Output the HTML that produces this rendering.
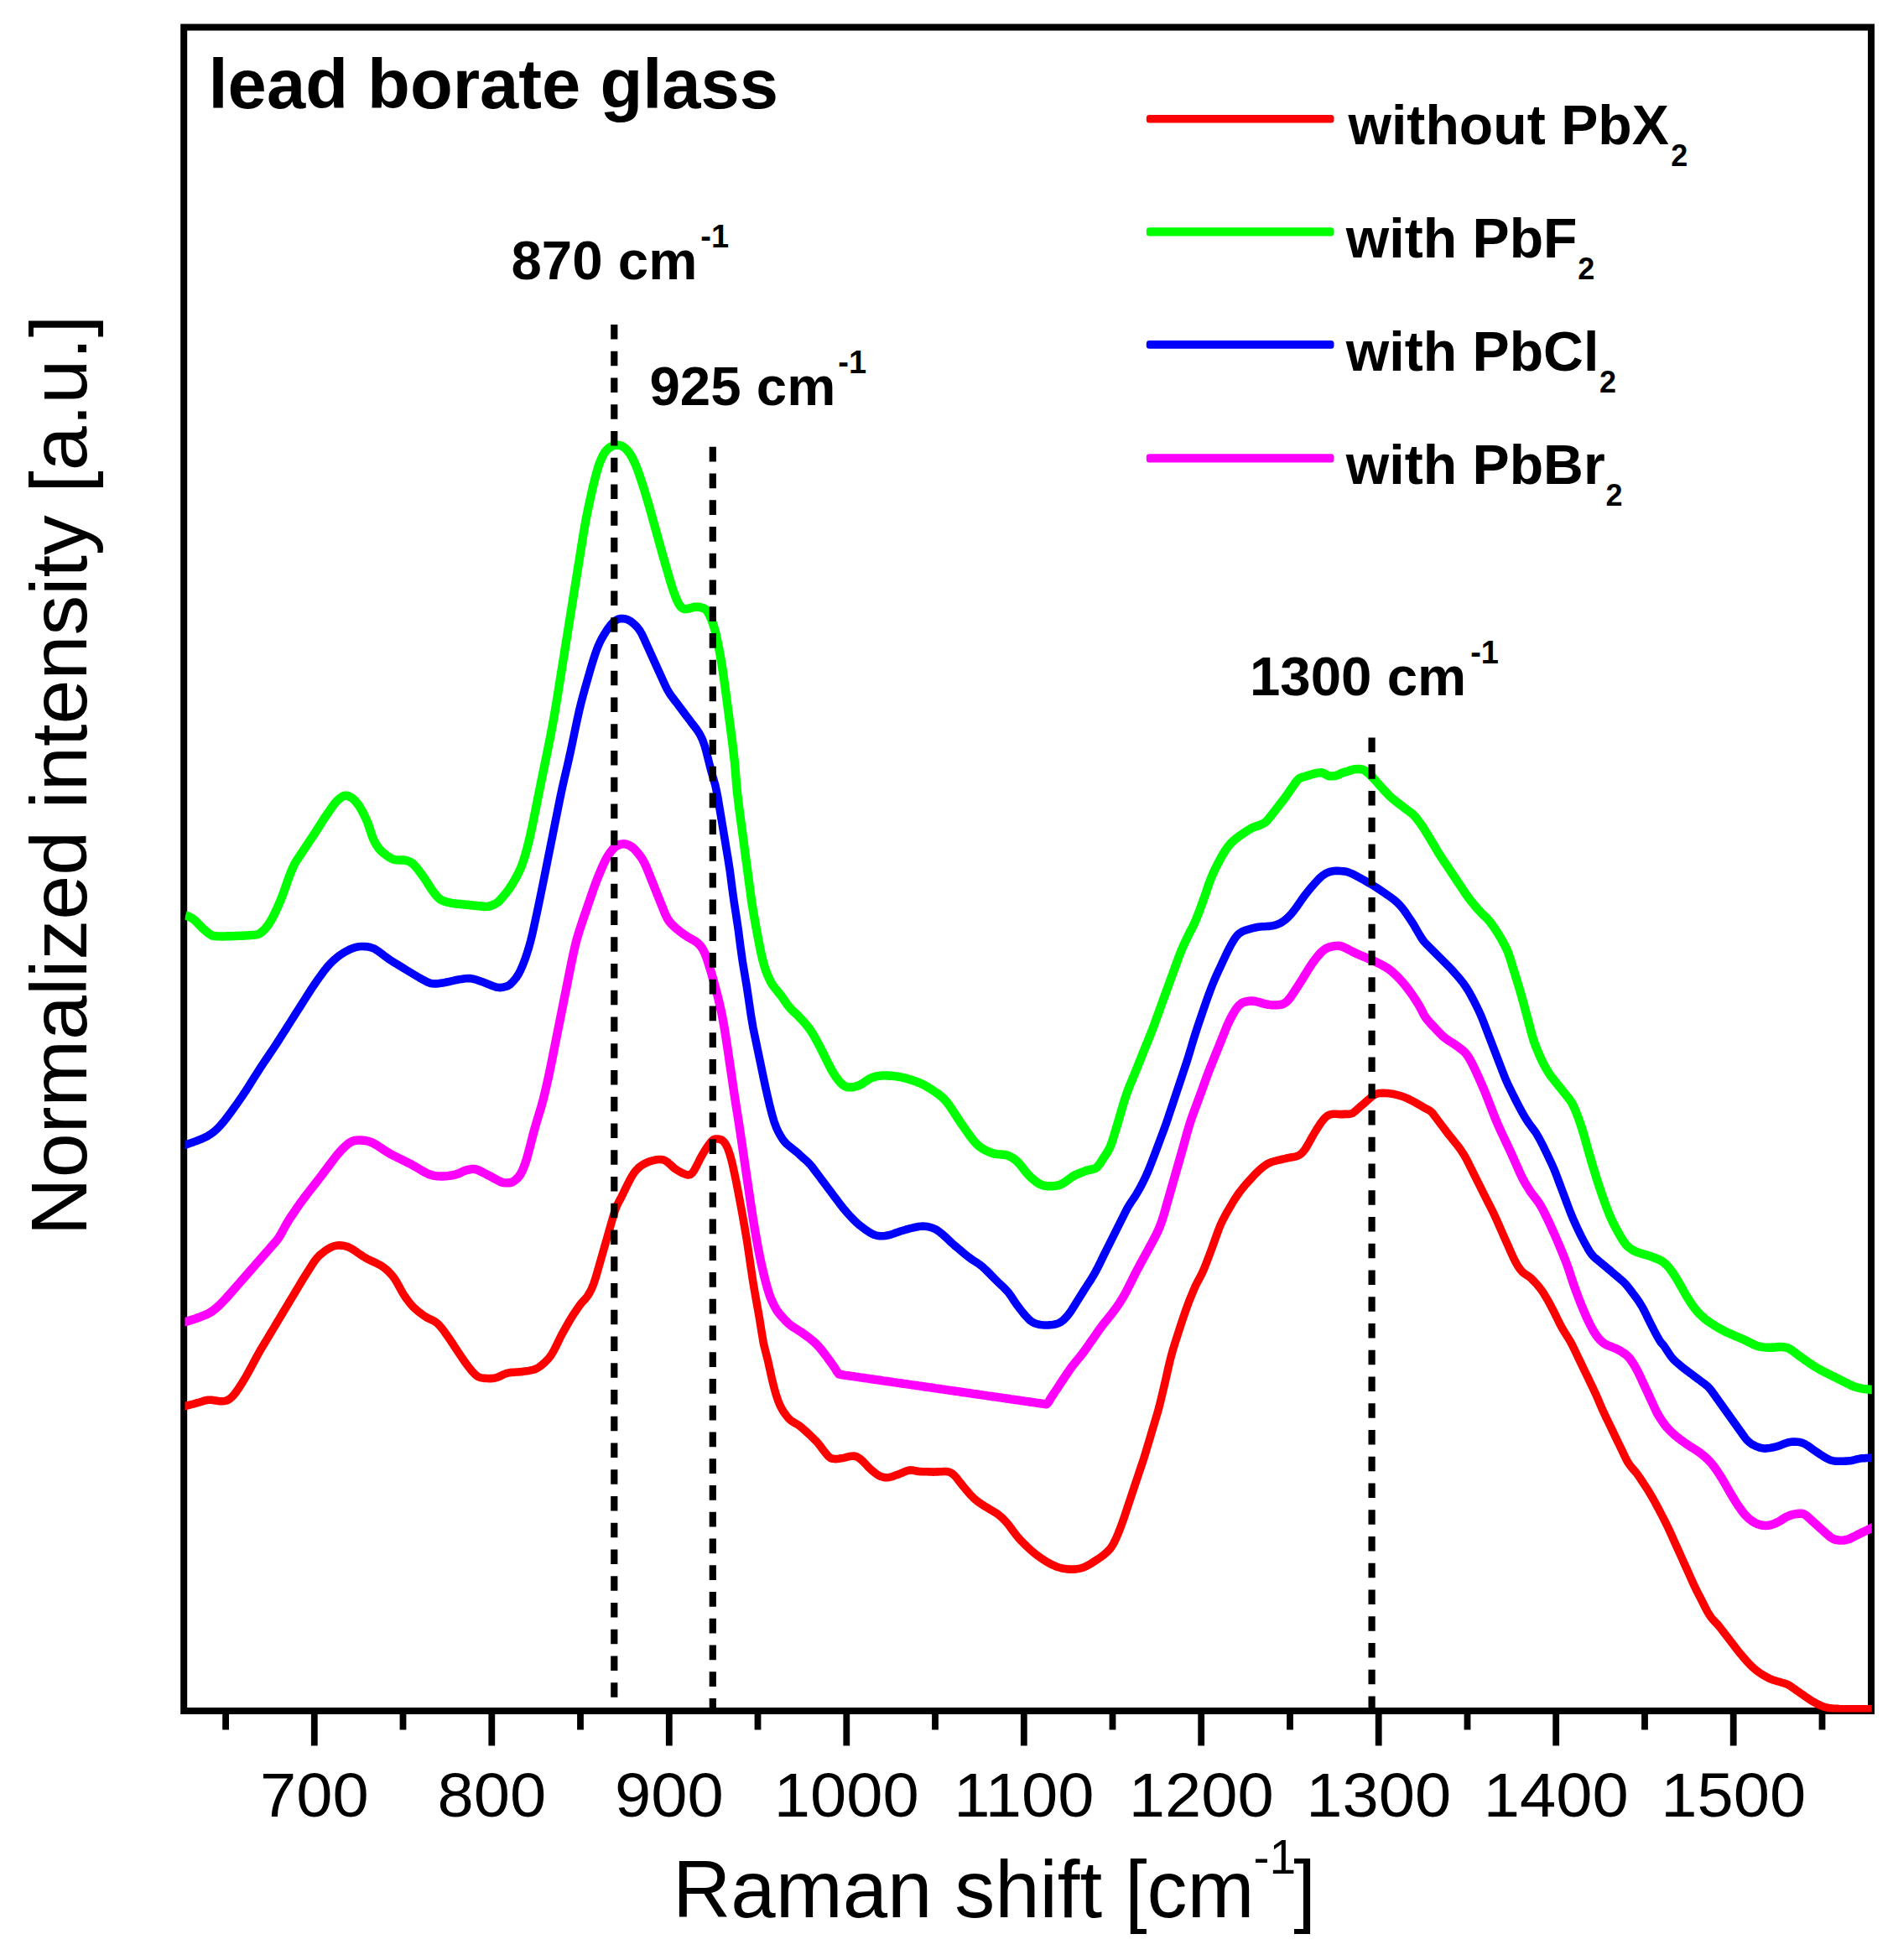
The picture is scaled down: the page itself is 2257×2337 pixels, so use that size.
<!DOCTYPE html>
<html lang="en"><head><meta charset="utf-8"><title>Raman spectra of lead borate glass</title>
<style>html,body{margin:0;padding:0;background:#fff;}body{width:2257px;height:2337px;overflow:hidden;}svg{display:block;}text{font-family:"Liberation Sans", sans-serif;fill:#000;}.b{font-weight:700;}</style>
</head><body>
<svg width="2257" height="2337" viewBox="0 0 2257 2337">
<rect width="2257" height="2337" fill="#fff"/>
<defs><clipPath id="plot"><rect x="220.5" y="32.5" width="2011.2" height="2009.0"/></clipPath></defs>
<rect x="219.2" y="32.5" width="2011.8" height="2007.5" fill="none" stroke="#000" stroke-width="8"/>
<path d="M269.1 2043.5 v19M374.8 2043.5 v38M480.5 2043.5 v19M586.3 2043.5 v38M692.0 2043.5 v19M797.8 2043.5 v38M903.5 2043.5 v19M1009.3 2043.5 v38M1115.0 2043.5 v19M1220.8 2043.5 v38M1326.5 2043.5 v19M1432.2 2043.5 v38M1538.0 2043.5 v19M1643.7 2043.5 v38M1749.5 2043.5 v19M1855.2 2043.5 v38M1961.0 2043.5 v19M2066.7 2043.5 v38M2172.5 2043.5 v19" stroke="#000" stroke-width="7.8" fill="none"/>
<g font-size="75" text-anchor="middle">
<text transform="translate(374.8 2166) scale(1.036 1)">700</text>
<text transform="translate(586.3 2166) scale(1.036 1)">800</text>
<text transform="translate(797.8 2166) scale(1.036 1)">900</text>
<text transform="translate(1009.3 2166) scale(1.036 1)">1000</text>
<text transform="translate(1220.8 2166) scale(1.036 1)">1100</text>
<text transform="translate(1432.2 2166) scale(1.036 1)">1200</text>
<text transform="translate(1643.7 2166) scale(1.036 1)">1300</text>
<text transform="translate(1855.2 2166) scale(1.036 1)">1400</text>
<text transform="translate(2066.7 2166) scale(1.036 1)">1500</text>
</g>
<g clip-path="url(#plot)" fill="none" stroke-linejoin="round" stroke-linecap="butt">
<path d="M205.3 1678.2L207.8 1678.1 210.3 1677.9 212.8 1677.7 215.3 1677.4 217.8 1677.1 220.3 1676.6 222.8 1676.0 225.3 1675.4 227.8 1674.7 230.3 1674.1 232.8 1673.4 235.3 1672.7 237.8 1672.0 240.3 1671.2 242.8 1670.4 245.3 1669.7 247.8 1669.2 250.3 1669.2 252.8 1669.3 255.3 1669.7 257.8 1670.1 260.3 1670.4 262.8 1670.7 265.3 1670.7 267.8 1670.5 270.3 1669.8 272.8 1668.6 275.3 1666.7 277.8 1664.4 280.3 1661.4 282.8 1657.9 285.3 1654.2 287.8 1650.3 290.3 1646.3 292.8 1642.1 295.3 1637.7 297.8 1633.2 300.3 1628.5 302.8 1623.7 305.3 1619.1 307.8 1614.5 310.3 1610.1 312.8 1606.0 315.3 1601.8 317.8 1597.6 320.3 1593.5 322.8 1589.3 325.3 1585.1 327.8 1581.0 330.3 1576.8 332.8 1572.6 335.3 1568.5 337.8 1564.3 340.3 1560.1 342.8 1556.0 345.3 1551.8 347.8 1547.6 350.3 1543.5 352.8 1539.3 355.3 1535.1 357.8 1531.0 360.3 1526.8 362.8 1522.7 365.3 1518.7 367.8 1514.8 370.3 1510.9 372.8 1507.0 375.3 1503.3 377.8 1500.1 380.3 1497.4 382.8 1495.2 385.3 1493.2 387.8 1491.3 390.3 1489.6 392.8 1488.1 395.3 1486.9 397.8 1485.9 400.3 1485.3 402.8 1484.9 405.3 1484.9 407.8 1485.1 410.3 1485.4 412.8 1486.1 415.3 1486.9 417.8 1488.1 420.3 1489.5 422.8 1491.1 425.3 1492.8 427.8 1494.6 430.3 1496.3 432.8 1498.0 435.3 1499.5 437.8 1500.9 440.3 1502.2 442.8 1503.4 445.3 1504.5 447.8 1505.7 450.3 1506.9 452.8 1508.2 455.3 1509.7 457.8 1511.4 460.3 1513.4 462.8 1515.7 465.3 1518.3 467.8 1521.1 470.3 1524.4 472.8 1528.3 475.3 1532.8 477.8 1537.5 480.3 1542.0 482.8 1545.9 485.3 1549.4 487.8 1552.7 490.3 1555.8 492.8 1558.5 495.3 1560.8 497.8 1562.9 500.3 1564.9 502.8 1566.8 505.3 1568.6 507.8 1570.3 510.3 1571.7 512.8 1572.9 515.3 1574.0 517.8 1575.3 520.3 1577.0 522.8 1579.2 525.3 1581.9 527.8 1585.0 530.3 1588.4 532.8 1592.0 535.3 1595.6 537.8 1599.3 540.3 1603.0 542.8 1606.8 545.3 1610.6 547.8 1614.4 550.3 1618.1 552.8 1621.7 555.3 1625.3 557.8 1628.7 560.3 1631.9 562.8 1634.9 565.3 1637.6 567.8 1640.0 570.3 1641.6 572.8 1642.6 575.3 1643.1 577.8 1643.4 580.3 1643.5 582.8 1643.6 585.3 1643.6 587.8 1643.4 590.3 1643.0 592.8 1642.3 595.3 1641.3 597.8 1640.1 600.3 1638.9 602.8 1637.9 605.3 1637.1 607.8 1636.6 610.3 1636.4 612.8 1636.2 615.3 1636.0 617.8 1635.9 620.3 1635.7 622.8 1635.4 625.3 1635.1 627.8 1634.8 630.3 1634.4 632.8 1633.9 635.3 1633.4 637.8 1632.7 640.3 1631.5 642.8 1630.0 645.3 1628.1 647.8 1626.0 650.3 1623.7 652.8 1621.2 655.3 1618.2 657.8 1614.7 660.3 1610.4 662.8 1605.5 665.3 1600.3 667.8 1595.1 670.3 1590.3 672.8 1585.8 675.3 1581.3 677.8 1577.0 680.3 1572.8 682.8 1568.7 685.3 1564.9 687.8 1561.3 690.3 1557.6 692.8 1554.2 695.3 1551.4 697.8 1548.8 700.3 1545.6 702.8 1541.7 705.3 1536.9 707.8 1530.8 710.3 1523.2 712.8 1514.5 715.3 1505.7 717.8 1497.0 720.3 1488.2 722.8 1479.5 725.3 1470.7 727.8 1462.0 730.3 1453.2 732.8 1444.7 735.3 1438.1 737.8 1433.0 740.3 1428.4 742.8 1423.4 745.3 1418.2 747.8 1413.0 750.3 1408.1 752.8 1403.5 755.3 1399.4 757.8 1396.1 760.3 1393.4 762.8 1391.1 765.3 1389.3 767.8 1387.8 770.3 1386.6 772.8 1385.5 775.3 1384.6 777.8 1383.9 780.3 1383.3 782.8 1382.8 785.3 1382.5 787.8 1382.5 790.3 1382.8 792.8 1383.7 795.3 1385.3 797.8 1387.4 800.3 1389.6 802.8 1391.9 805.3 1393.9 807.8 1395.5 810.3 1397.0 812.8 1398.3 815.3 1399.4 817.8 1400.4 820.3 1401.0 822.8 1400.6 825.3 1398.7 827.8 1395.2 830.3 1390.7 832.8 1385.7 835.3 1380.7 837.8 1376.2 840.3 1372.1 842.8 1368.2 845.3 1364.6 847.8 1361.3 850.3 1359.0 852.8 1358.0 855.3 1358.0 857.8 1358.3 860.3 1359.1 862.8 1361.0 865.3 1364.3 867.8 1369.5 870.3 1376.7 872.8 1386.0 875.3 1397.3 877.8 1409.3 880.3 1422.0 882.8 1435.3 885.3 1449.0 887.8 1463.2 890.3 1478.0 892.8 1494.4 895.3 1511.7 897.8 1528.2 900.3 1542.9 902.8 1556.8 905.3 1570.8 907.8 1586.5 910.3 1601.5 912.8 1611.6 915.3 1621.2 917.8 1632.5 920.3 1643.8 922.8 1654.0 925.3 1663.0 927.8 1670.4 930.3 1676.3 932.8 1681.0 935.3 1684.8 937.8 1688.2 940.3 1691.2 942.8 1693.6 945.3 1695.3 947.8 1696.7 950.3 1698.1 952.8 1699.8 955.3 1701.8 957.8 1703.9 960.3 1706.1 962.8 1708.4 965.3 1710.7 967.8 1713.1 970.3 1715.6 972.8 1718.1 975.3 1720.8 977.8 1723.9 980.3 1727.3 982.8 1730.6 985.3 1733.7 987.8 1736.6 990.3 1738.6 992.8 1739.3 995.3 1739.6 997.8 1739.5 1000.3 1739.2 1002.8 1738.8 1005.3 1738.4 1007.8 1737.9 1010.3 1737.2 1012.8 1736.6 1015.3 1736.2 1017.8 1736.0 1020.3 1736.5 1022.8 1737.6 1025.3 1739.3 1027.8 1741.4 1030.3 1743.9 1032.8 1746.5 1035.3 1749.2 1037.8 1751.6 1040.3 1753.8 1042.8 1755.9 1045.3 1757.8 1047.8 1759.4 1050.3 1760.5 1052.8 1761.3 1055.3 1761.7 1057.8 1761.7 1060.3 1761.4 1062.8 1760.9 1065.3 1760.0 1067.8 1759.1 1070.3 1758.2 1072.8 1757.2 1075.3 1756.3 1077.8 1755.2 1080.3 1754.1 1082.8 1753.3 1085.3 1752.9 1087.8 1753.0 1090.3 1753.5 1092.8 1754.0 1095.3 1754.5 1097.8 1754.6 1100.3 1754.7 1102.8 1754.8 1105.3 1754.8 1107.8 1754.9 1110.3 1755.0 1112.8 1755.1 1115.3 1755.0 1117.8 1754.9 1120.3 1754.8 1122.8 1754.7 1125.3 1754.5 1127.8 1754.5 1130.3 1754.8 1132.8 1755.6 1135.3 1757.0 1137.8 1759.1 1140.3 1761.9 1142.8 1765.1 1145.3 1768.3 1147.8 1771.5 1150.3 1774.5 1152.8 1777.4 1155.3 1780.4 1157.8 1783.2 1160.3 1785.7 1162.8 1788.0 1165.3 1790.0 1167.8 1791.8 1170.3 1793.5 1172.8 1795.1 1175.3 1796.7 1177.8 1798.2 1180.3 1799.7 1182.8 1801.1 1185.3 1802.6 1187.8 1804.1 1190.3 1805.9 1192.8 1807.9 1195.3 1810.3 1197.8 1812.8 1200.3 1815.5 1202.8 1818.6 1205.3 1821.9 1207.8 1825.4 1210.3 1828.7 1212.8 1831.9 1215.3 1834.7 1217.8 1837.4 1220.3 1840.0 1222.8 1842.5 1225.3 1844.9 1227.8 1847.2 1230.3 1849.4 1232.8 1851.5 1235.3 1853.5 1237.8 1855.4 1240.3 1857.2 1242.8 1858.9 1245.3 1860.5 1247.8 1862.1 1250.3 1863.5 1252.8 1864.9 1255.3 1866.1 1257.8 1867.2 1260.3 1868.2 1262.8 1869.0 1265.3 1869.7 1267.8 1870.2 1270.3 1870.6 1272.8 1870.9 1275.3 1871.1 1277.8 1871.1 1280.3 1871.1 1282.8 1870.9 1285.3 1870.6 1287.8 1870.1 1290.3 1869.4 1292.8 1868.5 1295.3 1867.3 1297.8 1866.0 1300.3 1864.6 1302.8 1863.0 1305.3 1861.4 1307.8 1859.8 1310.3 1858.1 1312.8 1856.4 1315.3 1854.5 1317.8 1852.4 1320.3 1850.2 1322.8 1847.7 1325.3 1844.4 1327.8 1840.2 1330.3 1835.1 1332.8 1829.3 1335.3 1823.1 1337.8 1816.4 1340.3 1809.3 1342.8 1801.8 1345.3 1794.3 1347.8 1786.8 1350.3 1779.3 1352.8 1771.8 1355.3 1764.3 1357.8 1756.8 1360.3 1749.4 1362.8 1741.9 1365.3 1734.0 1367.8 1725.7 1370.3 1717.3 1372.8 1708.9 1375.3 1700.5 1377.8 1692.2 1380.3 1683.9 1382.8 1674.5 1385.3 1664.2 1387.8 1653.7 1390.3 1642.9 1392.8 1631.6 1395.3 1621.0 1397.8 1611.7 1400.3 1603.3 1402.8 1595.5 1405.3 1587.7 1407.8 1580.0 1410.3 1572.4 1412.8 1565.1 1415.3 1558.1 1417.8 1551.4 1420.3 1545.2 1422.8 1539.2 1425.3 1533.4 1427.8 1528.4 1430.3 1523.8 1432.8 1519.1 1435.3 1513.6 1437.8 1507.3 1440.3 1500.8 1442.8 1494.1 1445.3 1487.3 1447.8 1480.3 1450.3 1473.3 1452.8 1466.5 1455.3 1460.3 1457.8 1455.0 1460.3 1450.2 1462.8 1445.7 1465.3 1441.4 1467.8 1437.1 1470.3 1432.9 1472.8 1428.9 1475.3 1425.1 1477.8 1421.6 1480.3 1418.4 1482.8 1415.3 1485.3 1412.3 1487.8 1409.5 1490.3 1406.7 1492.8 1404.0 1495.3 1401.3 1497.8 1398.7 1500.3 1396.3 1502.8 1394.0 1505.3 1391.9 1507.8 1390.0 1510.3 1388.3 1512.8 1386.9 1515.3 1385.8 1517.8 1385.0 1520.3 1384.3 1522.8 1383.7 1525.3 1383.1 1527.8 1382.5 1530.3 1381.9 1532.8 1381.3 1535.3 1380.8 1537.8 1380.3 1540.3 1379.8 1542.8 1379.4 1545.3 1378.8 1547.8 1378.0 1550.3 1376.5 1552.8 1374.3 1555.3 1371.3 1557.8 1367.5 1560.3 1363.2 1562.8 1358.6 1565.3 1354.1 1567.8 1349.9 1570.3 1345.9 1572.8 1342.0 1575.3 1338.3 1577.8 1335.0 1580.3 1332.3 1582.8 1330.4 1585.3 1329.2 1587.8 1328.5 1590.3 1328.3 1592.8 1328.3 1595.3 1328.5 1597.8 1328.6 1600.3 1328.6 1602.8 1328.4 1605.3 1328.4 1607.8 1328.5 1610.3 1328.1 1612.8 1327.2 1615.3 1325.3 1617.8 1323.1 1620.3 1320.9 1622.8 1318.7 1625.3 1316.6 1627.8 1314.4 1630.3 1312.2 1632.8 1310.0 1635.3 1307.8 1637.8 1305.9 1640.3 1304.6 1642.8 1303.8 1645.3 1303.5 1647.8 1303.4 1650.3 1303.4 1652.8 1303.5 1655.3 1303.6 1657.8 1303.9 1660.3 1304.3 1662.8 1304.8 1665.3 1305.4 1667.8 1306.1 1670.3 1306.8 1672.8 1307.6 1675.3 1308.6 1677.8 1309.7 1680.3 1310.9 1682.8 1312.1 1685.3 1313.4 1687.8 1314.8 1690.3 1316.2 1692.8 1317.6 1695.3 1319.1 1697.8 1320.6 1700.3 1322.0 1702.8 1323.2 1705.3 1324.6 1707.8 1327.0 1710.3 1330.3 1712.8 1333.6 1715.3 1337.0 1717.8 1340.3 1720.3 1343.6 1722.8 1346.9 1725.3 1350.3 1727.8 1353.5 1730.3 1356.6 1732.8 1359.6 1735.3 1362.7 1737.8 1365.8 1740.3 1369.2 1742.8 1372.8 1745.3 1376.7 1747.8 1381.0 1750.3 1385.8 1752.8 1390.8 1755.3 1395.8 1757.8 1400.8 1760.3 1405.8 1762.8 1410.8 1765.3 1415.8 1767.8 1420.8 1770.3 1425.8 1772.8 1430.8 1775.3 1435.7 1777.8 1440.6 1780.3 1445.7 1782.8 1451.0 1785.3 1456.5 1787.8 1462.2 1790.3 1467.9 1792.8 1473.6 1795.3 1479.2 1797.8 1484.8 1800.3 1490.5 1802.8 1496.1 1805.3 1501.5 1807.8 1506.2 1810.3 1510.4 1812.8 1513.9 1815.3 1516.7 1817.8 1518.8 1820.3 1520.4 1822.8 1522.0 1825.3 1524.0 1827.8 1526.5 1830.3 1529.1 1832.8 1531.9 1835.3 1534.9 1837.8 1538.1 1840.3 1541.8 1842.8 1545.9 1845.3 1550.2 1847.8 1554.7 1850.3 1559.4 1852.8 1564.3 1855.3 1569.4 1857.8 1574.5 1860.3 1579.5 1862.8 1584.1 1865.3 1588.2 1867.8 1592.2 1870.3 1596.2 1872.8 1600.5 1875.3 1605.3 1877.8 1610.4 1880.3 1615.7 1882.8 1620.9 1885.3 1626.1 1887.8 1631.3 1890.3 1636.5 1892.8 1641.7 1895.3 1646.9 1897.8 1652.1 1900.3 1657.3 1902.8 1662.6 1905.3 1668.4 1907.8 1674.3 1910.3 1680.1 1912.8 1685.6 1915.3 1690.8 1917.8 1696.0 1920.3 1701.2 1922.8 1706.4 1925.3 1711.6 1927.8 1716.8 1930.3 1722.0 1932.8 1727.2 1935.3 1732.4 1937.8 1737.6 1940.3 1742.5 1942.8 1746.3 1945.3 1749.6 1947.8 1752.5 1950.3 1755.4 1952.8 1758.6 1955.3 1762.3 1957.8 1766.0 1960.3 1769.8 1962.8 1773.6 1965.3 1777.5 1967.8 1781.7 1970.3 1786.0 1972.8 1790.5 1975.3 1795.1 1977.8 1799.8 1980.3 1804.6 1982.8 1809.4 1985.3 1814.3 1987.8 1819.3 1990.3 1824.6 1992.8 1830.1 1995.3 1835.7 1997.8 1841.2 2000.3 1846.8 2002.8 1852.3 2005.3 1857.9 2007.8 1863.4 2010.3 1869.0 2012.8 1874.5 2015.3 1880.1 2017.8 1885.7 2020.3 1891.2 2022.8 1896.3 2025.3 1901.2 2027.8 1906.0 2030.3 1911.0 2032.8 1916.0 2035.3 1920.8 2037.8 1925.1 2040.3 1928.7 2042.8 1931.7 2045.3 1934.3 2047.8 1936.9 2050.3 1939.9 2052.8 1943.1 2055.3 1946.4 2057.8 1949.6 2060.3 1952.9 2062.8 1956.1 2065.3 1959.4 2067.8 1962.6 2070.3 1965.9 2072.8 1969.1 2075.3 1972.2 2077.8 1975.1 2080.3 1978.0 2082.8 1980.9 2085.3 1983.6 2087.8 1986.1 2090.3 1988.5 2092.8 1990.7 2095.3 1992.6 2097.8 1994.4 2100.3 1996.1 2102.8 1997.6 2105.3 1999.0 2107.8 2000.4 2110.3 2001.6 2112.8 2002.7 2115.3 2003.5 2117.8 2004.3 2120.3 2005.0 2122.8 2005.7 2125.3 2006.5 2127.8 2007.2 2130.3 2008.1 2132.8 2009.2 2135.3 2010.8 2137.8 2012.6 2140.3 2014.3 2142.8 2016.1 2145.3 2017.8 2147.8 2019.6 2150.3 2021.3 2152.8 2023.1 2155.3 2024.8 2157.8 2026.5 2160.3 2028.1 2162.8 2029.5 2165.3 2030.9 2167.8 2032.2 2170.3 2033.4 2172.8 2034.4 2175.3 2035.3 2177.8 2035.9 2180.3 2036.4 2182.8 2036.8 2185.3 2037.1 2187.8 2037.3 2190.3 2037.4 2192.8 2037.6 2195.3 2037.7 2197.8 2037.8 2200.3 2037.8 2202.8 2037.8 2205.3 2037.8 2207.8 2037.8 2210.3 2037.8 2212.8 2037.8 2215.3 2037.8 2217.8 2037.8 2220.3 2037.8 2222.8 2037.8 2225.3 2037.8 2227.8 2037.8 2230.3 2037.8 2232.8 2037.8 2235.3 2037.8 2237.8 2037.8 2240.3 2037.8 2242.8 2037.8" stroke="#ff0000" stroke-width="9.6"/>
<path d="M221.1 1091.5L223.6 1092.2 226.1 1093.3 228.6 1094.6 231.1 1096.3 233.6 1098.5 236.1 1101.1 238.6 1103.8 241.1 1106.3 243.6 1108.5 246.1 1110.7 248.6 1112.8 251.1 1114.5 253.6 1115.7 256.1 1116.1 258.6 1116.3 261.1 1116.4 263.6 1116.5 266.1 1116.5 268.6 1116.4 271.1 1116.3 273.6 1116.3 276.1 1116.2 278.6 1116.1 281.1 1116.0 283.6 1115.9 286.1 1115.8 288.6 1115.7 291.1 1115.6 293.6 1115.4 296.1 1115.3 298.6 1115.1 301.1 1114.9 303.6 1114.7 306.1 1114.4 308.6 1113.6 311.1 1112.1 313.6 1110.0 316.1 1107.4 318.6 1104.4 321.1 1100.8 323.6 1096.7 326.1 1092.0 328.6 1086.9 331.1 1081.4 333.6 1075.6 336.1 1069.5 338.6 1062.9 341.1 1055.7 343.6 1048.4 346.1 1041.8 348.6 1035.7 351.1 1030.4 353.6 1026.1 356.1 1022.4 358.6 1018.6 361.1 1014.9 363.6 1011.1 366.1 1007.4 368.6 1003.6 371.1 999.9 373.6 996.1 376.1 992.3 378.6 988.4 381.1 984.4 383.6 980.4 386.1 976.5 388.6 972.8 391.1 969.2 393.6 965.6 396.1 962.1 398.6 958.7 401.1 955.7 403.6 953.3 406.1 951.3 408.6 949.7 411.1 948.7 413.6 948.7 416.1 949.5 418.6 950.8 421.1 952.6 423.6 955.1 426.1 958.1 428.6 961.6 431.1 965.8 433.6 970.5 436.1 975.7 438.6 981.5 441.1 989.0 443.6 996.7 446.1 1002.7 448.6 1007.1 451.1 1010.8 453.6 1013.8 456.1 1016.2 458.6 1018.2 461.1 1020.1 463.6 1021.9 466.1 1023.3 468.6 1024.4 471.1 1025.1 473.6 1025.4 476.1 1025.5 478.6 1025.5 481.1 1025.5 483.6 1025.9 486.1 1026.5 488.6 1027.5 491.1 1029.0 493.6 1031.2 496.1 1034.0 498.6 1037.1 501.1 1040.4 503.6 1043.8 506.1 1047.4 508.6 1051.2 511.1 1055.1 513.6 1059.0 516.1 1062.6 518.6 1066.0 521.1 1068.9 523.6 1071.4 526.1 1073.1 528.6 1074.2 531.1 1075.0 533.6 1075.7 536.1 1076.3 538.6 1076.8 541.1 1077.2 543.6 1077.5 546.1 1077.8 548.6 1078.0 551.1 1078.3 553.6 1078.5 556.1 1078.8 558.6 1079.0 561.1 1079.3 563.6 1079.5 566.1 1079.8 568.6 1080.0 571.1 1080.3 573.6 1080.5 576.1 1080.8 578.6 1081.0 581.1 1080.9 583.6 1080.5 586.1 1079.7 588.6 1078.7 591.1 1077.4 593.6 1075.6 596.1 1073.3 598.6 1070.5 601.1 1067.5 603.6 1064.4 606.1 1061.1 608.6 1057.5 611.1 1053.6 613.6 1049.4 616.1 1044.9 618.6 1040.0 621.1 1034.4 623.6 1027.7 626.1 1019.9 628.6 1010.8 631.1 1000.7 633.6 989.7 636.1 977.7 638.6 965.2 641.1 952.6 643.6 940.2 646.1 927.9 648.6 915.8 651.1 903.7 653.6 891.3 656.1 878.7 658.6 865.5 661.1 851.6 663.6 836.6 666.1 821.0 668.6 805.4 671.1 789.8 673.6 774.1 676.1 758.5 678.6 742.9 681.1 727.3 683.6 711.6 686.1 696.0 688.6 680.4 691.1 664.8 693.6 649.1 696.1 633.6 698.6 619.5 701.1 607.0 703.6 595.5 706.1 584.4 708.6 573.8 711.1 564.2 713.6 555.8 716.1 549.0 718.6 543.6 721.1 539.4 723.6 536.3 726.1 534.0 728.6 532.6 731.1 531.5 733.6 530.8 736.1 530.6 738.6 530.9 741.1 531.7 743.6 533.0 746.1 535.0 748.6 537.8 751.1 541.2 753.6 545.3 756.1 550.3 758.6 556.0 761.1 562.7 763.6 570.1 766.1 577.7 768.6 585.5 771.1 593.7 773.6 602.3 776.1 611.2 778.6 620.2 781.1 629.2 783.6 638.2 786.1 647.2 788.6 656.2 791.1 665.0 793.6 673.7 796.1 682.4 798.6 691.1 801.1 699.3 803.6 706.7 806.1 713.3 808.6 718.9 811.1 722.8 813.6 725.1 816.1 726.1 818.6 726.1 821.1 725.7 823.6 724.9 826.1 724.2 828.6 723.7 831.1 723.6 833.6 723.8 836.1 724.4 838.6 725.2 841.1 726.4 843.6 729.2 846.1 733.7 848.6 739.7 851.1 746.9 853.6 756.1 856.1 767.5 858.6 780.7 861.1 795.4 863.6 812.7 866.1 831.4 868.6 850.3 871.1 869.3 873.6 888.7 876.1 910.6 878.6 941.6 881.1 962.3 883.6 981.1 886.1 999.8 888.6 1018.6 891.1 1037.3 893.6 1056.1 896.1 1074.6 898.6 1089.9 901.1 1103.7 903.6 1117.3 906.1 1130.0 908.6 1141.6 911.1 1151.2 913.6 1158.8 916.1 1164.8 918.6 1170.1 921.1 1174.4 923.6 1177.7 926.1 1180.8 928.6 1183.8 931.1 1186.9 933.6 1190.3 936.1 1194.1 938.6 1197.7 941.1 1200.9 943.6 1203.6 946.1 1206.1 948.6 1208.4 951.1 1210.7 953.6 1213.3 956.1 1216.0 958.6 1218.7 961.1 1221.6 963.6 1224.7 966.1 1228.1 968.6 1232.0 971.1 1236.2 973.6 1240.7 976.1 1245.4 978.6 1250.2 981.1 1255.1 983.6 1260.1 986.1 1265.2 988.6 1270.2 991.1 1275.1 993.6 1279.4 996.1 1283.3 998.6 1286.7 1001.1 1289.8 1003.6 1292.4 1006.1 1294.4 1008.6 1295.7 1011.1 1296.4 1013.6 1296.4 1016.1 1296.3 1018.6 1295.8 1021.1 1295.2 1023.6 1294.3 1026.1 1293.2 1028.6 1291.7 1031.1 1290.0 1033.6 1288.3 1036.1 1286.7 1038.6 1285.3 1041.1 1284.4 1043.6 1283.7 1046.1 1283.2 1048.6 1282.8 1051.1 1282.5 1053.6 1282.4 1056.1 1282.4 1058.6 1282.5 1061.1 1282.7 1063.6 1282.8 1066.1 1283.1 1068.6 1283.4 1071.1 1283.8 1073.6 1284.2 1076.1 1284.8 1078.6 1285.3 1081.1 1286.0 1083.6 1286.7 1086.1 1287.5 1088.6 1288.3 1091.1 1289.2 1093.6 1290.1 1096.1 1291.1 1098.6 1292.2 1101.1 1293.4 1103.6 1294.7 1106.1 1296.2 1108.6 1297.7 1111.1 1299.3 1113.6 1301.0 1116.1 1302.7 1118.6 1304.4 1121.1 1306.4 1123.6 1308.5 1126.1 1310.9 1128.6 1313.8 1131.1 1317.0 1133.6 1320.6 1136.1 1324.4 1138.6 1328.2 1141.1 1332.1 1143.6 1335.9 1146.1 1339.6 1148.6 1343.2 1151.1 1346.8 1153.6 1350.4 1156.1 1353.8 1158.6 1357.2 1161.1 1360.4 1163.6 1363.2 1166.1 1365.6 1168.6 1367.6 1171.1 1369.4 1173.6 1370.8 1176.1 1372.1 1178.6 1373.2 1181.1 1374.2 1183.6 1375.0 1186.1 1375.7 1188.6 1376.1 1191.1 1376.4 1193.6 1376.5 1196.1 1376.7 1198.6 1377.0 1201.1 1377.7 1203.6 1378.7 1206.1 1379.9 1208.6 1381.5 1211.1 1383.4 1213.6 1385.7 1216.1 1388.4 1218.6 1391.5 1221.1 1394.8 1223.6 1398.0 1226.1 1400.8 1228.6 1403.3 1231.1 1405.6 1233.6 1407.7 1236.1 1409.6 1238.6 1411.2 1241.1 1412.4 1243.6 1413.3 1246.1 1413.8 1248.6 1414.2 1251.1 1414.3 1253.6 1414.3 1256.1 1414.2 1258.6 1413.9 1261.1 1413.4 1263.6 1412.7 1266.1 1411.6 1268.6 1410.2 1271.1 1408.5 1273.6 1406.6 1276.1 1404.7 1278.6 1403.0 1281.1 1401.5 1283.6 1400.3 1286.1 1399.3 1288.6 1398.3 1291.1 1397.3 1293.6 1396.4 1296.1 1395.5 1298.6 1394.9 1301.1 1394.4 1303.6 1393.9 1306.1 1393.0 1308.6 1390.9 1311.1 1387.8 1313.6 1384.1 1316.1 1380.1 1318.6 1376.3 1321.1 1372.4 1323.6 1367.5 1326.1 1360.9 1328.6 1352.7 1331.1 1344.4 1333.6 1336.0 1336.1 1327.6 1338.6 1318.9 1341.1 1310.6 1343.6 1303.2 1346.1 1296.6 1348.6 1290.6 1351.1 1284.6 1353.6 1278.5 1356.1 1272.3 1358.6 1266.0 1361.1 1259.8 1363.6 1253.5 1366.1 1247.3 1368.6 1241.2 1371.1 1235.0 1373.6 1228.6 1376.1 1222.0 1378.6 1215.1 1381.1 1208.2 1383.6 1201.2 1386.1 1194.3 1388.6 1187.4 1391.1 1180.6 1393.6 1173.7 1396.1 1166.8 1398.6 1159.9 1401.1 1153.1 1403.6 1146.2 1406.1 1139.3 1408.6 1133.0 1411.1 1127.3 1413.6 1122.0 1416.1 1116.8 1418.6 1111.7 1421.1 1107.0 1423.6 1102.0 1426.1 1096.2 1428.6 1089.9 1431.1 1083.2 1433.6 1076.4 1436.1 1069.5 1438.6 1062.1 1441.1 1054.8 1443.6 1048.0 1446.1 1041.9 1448.6 1036.5 1451.1 1031.5 1453.6 1026.8 1456.1 1022.1 1458.6 1017.8 1461.1 1013.8 1463.6 1010.3 1466.1 1007.1 1468.6 1004.4 1471.1 1002.0 1473.6 1000.0 1476.1 998.1 1478.6 996.2 1481.1 994.5 1483.6 992.8 1486.1 991.2 1488.6 989.6 1491.1 988.1 1493.6 986.7 1496.1 985.8 1498.6 985.0 1501.1 984.2 1503.6 983.1 1506.1 981.9 1508.6 980.3 1511.1 978.1 1513.6 975.0 1516.1 971.8 1518.6 968.6 1521.1 965.4 1523.6 962.2 1526.1 958.9 1528.6 955.7 1531.1 952.5 1533.6 949.1 1536.1 945.4 1538.6 941.8 1541.1 938.2 1543.6 934.6 1546.1 931.2 1548.6 928.5 1551.1 927.2 1553.6 926.5 1556.1 925.8 1558.6 925.0 1561.1 924.2 1563.6 923.4 1566.1 922.7 1568.6 922.1 1571.1 921.7 1573.6 921.4 1576.1 921.3 1578.6 922.2 1581.1 923.7 1583.6 925.0 1586.1 925.4 1588.6 925.4 1591.1 925.1 1593.6 924.6 1596.1 923.7 1598.6 922.2 1601.1 921.3 1603.6 920.6 1606.1 920.0 1608.6 919.0 1611.1 918.1 1613.6 917.5 1616.1 917.1 1618.6 917.0 1621.1 917.0 1623.6 917.3 1626.1 918.1 1628.6 919.6 1631.1 921.6 1633.6 924.0 1636.1 926.5 1638.6 929.1 1641.1 931.9 1643.6 934.7 1646.1 937.6 1648.6 940.4 1651.1 943.1 1653.6 945.8 1656.1 948.4 1658.6 950.8 1661.1 952.9 1663.6 954.9 1666.1 956.9 1668.6 958.8 1671.1 960.7 1673.6 962.6 1676.1 964.5 1678.6 966.4 1681.1 968.2 1683.6 970.1 1686.1 972.5 1688.6 975.3 1691.1 978.6 1693.6 982.0 1696.1 985.6 1698.6 989.4 1701.1 993.5 1703.6 997.7 1706.1 1001.9 1708.6 1006.0 1711.1 1010.2 1713.6 1014.5 1716.1 1018.5 1718.6 1022.4 1721.1 1026.1 1723.6 1029.8 1726.1 1033.5 1728.6 1037.3 1731.1 1041.0 1733.6 1044.8 1736.1 1048.5 1738.6 1052.3 1741.1 1056.0 1743.6 1059.8 1746.1 1063.5 1748.6 1067.3 1751.1 1070.8 1753.6 1074.0 1756.1 1077.1 1758.6 1080.1 1761.1 1083.0 1763.6 1085.8 1766.1 1088.5 1768.6 1090.9 1771.1 1093.3 1773.6 1095.8 1776.1 1098.7 1778.6 1102.0 1781.1 1105.5 1783.6 1109.2 1786.1 1113.1 1788.6 1117.2 1791.1 1121.6 1793.6 1126.2 1796.1 1131.1 1798.6 1137.1 1801.1 1144.7 1803.6 1152.9 1806.1 1161.0 1808.6 1169.1 1811.1 1177.2 1813.6 1185.7 1816.1 1194.8 1818.6 1204.1 1821.1 1213.5 1823.6 1222.9 1826.1 1232.3 1828.6 1240.9 1831.1 1247.7 1833.6 1253.8 1836.1 1259.7 1838.6 1265.2 1841.1 1270.0 1843.6 1274.4 1846.1 1278.5 1848.6 1282.3 1851.1 1285.6 1853.6 1288.7 1856.1 1291.9 1858.6 1295.0 1861.1 1298.1 1863.6 1301.2 1866.1 1304.4 1868.6 1307.5 1871.1 1310.6 1873.6 1314.2 1876.1 1319.0 1878.6 1324.7 1881.1 1331.1 1883.6 1338.0 1886.1 1345.5 1888.6 1353.8 1891.1 1362.7 1893.6 1371.6 1896.1 1380.3 1898.6 1388.7 1901.1 1397.0 1903.6 1405.1 1906.1 1412.9 1908.6 1420.3 1911.1 1427.6 1913.6 1434.6 1916.1 1441.3 1918.6 1447.7 1921.1 1453.4 1923.6 1458.7 1926.1 1463.5 1928.6 1468.0 1931.1 1472.5 1933.6 1476.8 1936.1 1480.7 1938.6 1484.0 1941.1 1486.5 1943.6 1488.5 1946.1 1490.2 1948.6 1491.6 1951.1 1492.7 1953.6 1493.6 1956.1 1494.4 1958.6 1495.1 1961.1 1495.9 1963.6 1496.6 1966.1 1497.4 1968.6 1498.2 1971.1 1499.1 1973.6 1500.1 1976.1 1501.1 1978.6 1502.1 1981.1 1503.5 1983.6 1505.3 1986.1 1507.4 1988.6 1510.0 1991.1 1513.0 1993.6 1516.4 1996.1 1520.2 1998.6 1524.1 2001.1 1528.2 2003.6 1532.6 2006.1 1537.0 2008.6 1541.5 2011.1 1545.8 2013.6 1549.8 2016.1 1553.7 2018.6 1557.3 2021.1 1560.7 2023.6 1563.7 2026.1 1566.4 2028.6 1568.8 2031.1 1571.1 2033.6 1573.2 2036.1 1575.1 2038.6 1576.8 2041.1 1578.4 2043.6 1580.0 2046.1 1581.6 2048.6 1583.1 2051.1 1584.5 2053.6 1585.9 2056.1 1587.3 2058.6 1588.5 2061.1 1589.6 2063.6 1590.7 2066.1 1591.7 2068.6 1592.8 2071.1 1593.8 2073.6 1594.9 2076.1 1596.0 2078.6 1597.1 2081.1 1598.3 2083.6 1599.5 2086.1 1600.7 2088.6 1602.0 2091.1 1603.2 2093.6 1604.3 2096.1 1605.1 2098.6 1605.7 2101.1 1606.1 2103.6 1606.4 2106.1 1606.6 2108.6 1606.7 2111.1 1606.8 2113.6 1606.7 2116.1 1606.5 2118.6 1606.2 2121.1 1606.0 2123.6 1605.9 2126.1 1606.1 2128.6 1606.5 2131.1 1607.1 2133.6 1608.2 2136.1 1609.8 2138.6 1611.6 2141.1 1613.5 2143.6 1615.5 2146.1 1617.3 2148.6 1619.1 2151.1 1620.9 2153.6 1622.6 2156.1 1624.4 2158.6 1626.1 2161.1 1627.7 2163.6 1629.4 2166.1 1630.9 2168.6 1632.4 2171.1 1633.8 2173.6 1635.0 2176.1 1636.3 2178.6 1637.5 2181.1 1638.8 2183.6 1640.0 2186.1 1641.3 2188.6 1642.5 2191.1 1643.8 2193.6 1645.0 2196.1 1646.3 2198.6 1647.5 2201.1 1648.8 2203.6 1650.0 2206.1 1651.3 2208.6 1652.3 2211.1 1653.3 2213.6 1654.2 2216.1 1654.8 2218.6 1655.4 2221.1 1655.8 2223.6 1656.1 2226.1 1656.4 2228.6 1656.7 2231.1 1657.0 2233.6 1657.2 2236.1 1657.4 2238.6 1657.7 2241.1 1657.9 2243.6 1658.1" stroke="#00ff00" stroke-width="10.4"/>
<path d="M205.3 1368.8L207.8 1368.3 210.3 1367.7 212.8 1367.1 215.3 1366.5 217.8 1365.8 220.3 1365.1 222.8 1364.4 225.3 1363.6 227.8 1362.7 230.3 1361.9 232.8 1360.9 235.3 1360.0 237.8 1359.0 240.3 1358.0 242.8 1356.9 245.3 1355.7 247.8 1354.4 250.3 1352.8 252.8 1351.1 255.3 1349.2 257.8 1347.0 260.3 1344.6 262.8 1341.9 265.3 1339.0 267.8 1336.0 270.3 1332.8 272.8 1329.5 275.3 1326.1 277.8 1322.6 280.3 1319.2 282.8 1315.7 285.3 1312.1 287.8 1308.5 290.3 1304.8 292.8 1301.0 295.3 1297.1 297.8 1293.1 300.3 1289.1 302.8 1285.2 305.3 1281.2 307.8 1277.3 310.3 1273.4 312.8 1269.6 315.3 1265.9 317.8 1262.2 320.3 1258.5 322.8 1254.8 325.3 1251.1 327.8 1247.3 330.3 1243.5 332.8 1239.6 335.3 1235.7 337.8 1231.7 340.3 1227.8 342.8 1223.9 345.3 1220.0 347.8 1216.0 350.3 1212.1 352.8 1208.2 355.3 1204.2 357.8 1200.3 360.3 1196.4 362.8 1192.5 365.3 1188.5 367.8 1184.6 370.3 1180.7 372.8 1176.9 375.3 1173.2 377.8 1169.6 380.3 1166.0 382.8 1162.6 385.3 1159.2 387.8 1155.9 390.3 1152.8 392.8 1150.0 395.3 1147.4 397.8 1145.0 400.3 1142.9 402.8 1140.8 405.3 1138.9 407.8 1137.2 410.3 1135.6 412.8 1134.2 415.3 1132.9 417.8 1131.7 420.3 1130.7 422.8 1129.9 425.3 1129.2 427.8 1128.8 430.3 1128.5 432.8 1128.5 435.3 1128.6 437.8 1128.8 440.3 1129.2 442.8 1129.9 445.3 1130.8 447.8 1132.1 450.3 1133.7 452.8 1135.5 455.3 1137.4 457.8 1139.3 460.3 1141.1 462.8 1143.0 465.3 1144.7 467.8 1146.3 470.3 1147.8 472.8 1149.3 475.3 1150.9 477.8 1152.4 480.3 1153.9 482.8 1155.5 485.3 1157.0 487.8 1158.5 490.3 1160.0 492.8 1161.5 495.3 1163.0 497.8 1164.5 500.3 1166.0 502.8 1167.4 505.3 1168.8 507.8 1170.1 510.3 1171.3 512.8 1172.2 515.3 1172.7 517.8 1172.9 520.3 1172.9 522.8 1172.7 525.3 1172.3 527.8 1171.9 530.3 1171.5 532.8 1171.0 535.3 1170.5 537.8 1169.9 540.3 1169.3 542.8 1168.7 545.3 1168.2 547.8 1167.8 550.3 1167.4 552.8 1167.0 555.3 1166.7 557.8 1166.5 560.3 1166.6 562.8 1166.9 565.3 1167.5 567.8 1168.2 570.3 1169.1 572.8 1169.9 575.3 1170.8 577.8 1171.7 580.3 1172.7 582.8 1173.7 585.3 1174.7 587.8 1175.7 590.3 1176.6 592.8 1177.3 595.3 1177.6 597.8 1177.4 600.3 1177.0 602.8 1176.4 605.3 1175.6 607.8 1174.1 610.3 1171.8 612.8 1169.1 615.3 1166.0 617.8 1162.2 620.3 1157.5 622.8 1151.9 625.3 1145.6 627.8 1138.4 630.3 1130.5 632.8 1121.4 635.3 1111.1 637.8 1099.6 640.3 1088.0 642.8 1076.1 645.3 1063.9 647.8 1051.5 650.3 1039.0 652.8 1026.5 655.3 1014.0 657.8 1001.5 660.3 989.0 662.8 976.5 665.3 964.0 667.8 951.5 670.3 939.7 672.8 928.6 675.3 918.0 677.8 907.2 680.3 895.9 682.8 884.0 685.3 871.9 687.8 859.9 690.3 848.6 692.8 838.2 695.3 828.7 697.8 819.8 700.3 811.0 702.8 802.2 705.3 793.7 707.8 785.5 710.3 777.9 712.8 771.2 715.3 765.6 717.8 760.7 720.3 756.5 722.8 752.5 725.3 748.8 727.8 745.5 730.3 742.6 732.8 740.5 735.3 739.0 737.8 738.0 740.3 737.6 742.8 737.5 745.3 737.9 747.8 738.6 750.3 739.8 752.8 741.4 755.3 743.5 757.8 745.8 760.3 748.5 762.8 751.9 765.3 756.2 767.8 761.4 770.3 766.9 772.8 772.4 775.3 777.9 777.8 783.4 780.3 788.9 782.8 794.4 785.3 799.9 787.8 805.4 790.3 810.9 792.8 816.4 795.3 821.6 797.8 826.0 800.3 829.7 802.8 833.0 805.3 836.2 807.8 839.4 810.3 842.8 812.8 846.2 815.3 849.5 817.8 852.8 820.3 856.1 822.8 859.4 825.3 862.8 827.8 866.0 830.3 869.2 832.8 872.9 835.3 877.2 837.8 882.6 840.3 889.8 842.8 898.8 845.3 908.8 847.8 918.7 850.3 927.5 852.8 936.3 855.3 947.7 857.8 962.6 860.3 977.6 862.8 992.6 865.3 1007.6 867.8 1022.6 870.3 1038.5 872.8 1058.2 875.3 1076.2 877.8 1092.1 880.3 1108.9 882.8 1128.4 885.3 1146.2 887.8 1161.2 890.3 1176.1 892.8 1192.9 895.3 1210.1 897.8 1224.9 900.3 1236.9 902.8 1248.9 905.3 1260.9 907.8 1272.9 910.3 1284.9 912.8 1296.7 915.3 1307.8 917.8 1318.3 920.3 1328.2 922.8 1336.8 925.3 1343.7 927.8 1349.2 930.3 1353.8 932.8 1357.8 935.3 1361.2 937.8 1363.8 940.3 1366.0 942.8 1368.0 945.3 1370.0 947.8 1372.0 950.3 1374.0 952.8 1376.2 955.3 1378.6 957.8 1380.8 960.3 1383.0 962.8 1385.3 965.3 1387.9 967.8 1390.7 970.3 1394.0 972.8 1397.3 975.3 1400.6 977.8 1404.0 980.3 1407.3 982.8 1410.6 985.3 1414.0 987.8 1417.3 990.3 1420.6 992.8 1424.0 995.3 1427.3 997.8 1430.6 1000.3 1434.0 1002.8 1437.3 1005.3 1440.4 1007.8 1443.4 1010.3 1446.3 1012.8 1449.1 1015.3 1451.8 1017.8 1454.4 1020.3 1456.9 1022.8 1459.1 1025.3 1461.2 1027.8 1463.1 1030.3 1465.0 1032.8 1466.8 1035.3 1468.5 1037.8 1470.1 1040.3 1471.4 1042.8 1472.5 1045.3 1473.2 1047.8 1473.6 1050.3 1473.8 1052.8 1473.7 1055.3 1473.5 1057.8 1473.1 1060.3 1472.5 1062.8 1471.8 1065.3 1471.0 1067.8 1470.1 1070.3 1469.2 1072.8 1468.3 1075.3 1467.5 1077.8 1466.8 1080.3 1466.0 1082.8 1465.4 1085.3 1464.7 1087.8 1464.1 1090.3 1463.5 1092.8 1463.0 1095.3 1462.5 1097.8 1462.2 1100.3 1462.1 1102.8 1462.3 1105.3 1462.6 1107.8 1463.0 1110.3 1463.7 1112.8 1464.6 1115.3 1465.7 1117.8 1467.2 1120.3 1468.9 1122.8 1470.9 1125.3 1473.1 1127.8 1475.4 1130.3 1477.8 1132.8 1480.1 1135.3 1482.5 1137.8 1484.7 1140.3 1486.8 1142.8 1488.9 1145.3 1491.0 1147.8 1493.1 1150.3 1495.2 1152.8 1497.2 1155.3 1499.2 1157.8 1501.0 1160.3 1502.7 1162.8 1504.3 1165.3 1505.9 1167.8 1507.6 1170.3 1509.5 1172.8 1511.7 1175.3 1514.0 1177.8 1516.5 1180.3 1519.0 1182.8 1521.6 1185.3 1524.2 1187.8 1526.7 1190.3 1529.1 1192.8 1531.5 1195.3 1533.8 1197.8 1536.2 1200.3 1538.8 1202.8 1541.7 1205.3 1545.2 1207.8 1549.0 1210.3 1552.8 1212.8 1556.4 1215.3 1559.7 1217.8 1562.9 1220.3 1566.0 1222.8 1568.9 1225.3 1571.6 1227.8 1574.1 1230.3 1576.0 1232.8 1577.4 1235.3 1578.3 1237.8 1579.0 1240.3 1579.5 1242.8 1579.8 1245.3 1580.0 1247.8 1580.0 1250.3 1579.9 1252.8 1579.7 1255.3 1579.4 1257.8 1579.0 1260.3 1578.4 1262.8 1577.4 1265.3 1576.0 1267.8 1574.0 1270.3 1571.5 1272.8 1568.7 1275.3 1565.5 1277.8 1561.9 1280.3 1557.9 1282.8 1553.9 1285.3 1549.9 1287.8 1545.9 1290.3 1541.9 1292.8 1537.9 1295.3 1534.0 1297.8 1530.2 1300.3 1526.3 1302.8 1522.3 1305.3 1518.0 1307.8 1513.4 1310.3 1508.5 1312.8 1503.4 1315.3 1498.2 1317.8 1493.1 1320.3 1488.1 1322.8 1483.1 1325.3 1478.1 1327.8 1473.1 1330.3 1468.1 1332.8 1463.1 1335.3 1458.1 1337.8 1453.1 1340.3 1448.1 1342.8 1443.1 1345.3 1438.5 1347.8 1434.6 1350.3 1430.9 1352.8 1427.2 1355.3 1423.2 1357.8 1418.8 1360.3 1414.3 1362.8 1409.5 1365.3 1404.4 1367.8 1398.8 1370.3 1392.8 1372.8 1386.5 1375.3 1380.1 1377.8 1373.5 1380.3 1366.8 1382.8 1360.1 1385.3 1353.4 1387.8 1346.7 1390.3 1339.8 1392.8 1332.5 1395.3 1325.0 1397.8 1317.5 1400.3 1310.0 1402.8 1302.5 1405.3 1295.0 1407.8 1287.5 1410.3 1280.0 1412.8 1272.5 1415.3 1264.9 1417.8 1256.9 1420.3 1248.5 1422.8 1240.2 1425.3 1232.3 1427.8 1224.6 1430.3 1217.1 1432.8 1209.7 1435.3 1202.4 1437.8 1195.2 1440.3 1188.2 1442.8 1181.4 1445.3 1174.9 1447.8 1168.7 1450.3 1163.0 1452.8 1157.6 1455.3 1152.2 1457.8 1146.8 1460.3 1141.4 1462.8 1136.2 1465.3 1131.2 1467.8 1126.4 1470.3 1122.1 1472.8 1118.2 1475.3 1115.1 1477.8 1112.8 1480.3 1111.2 1482.8 1110.0 1485.3 1109.1 1487.8 1108.3 1490.3 1107.6 1492.8 1106.9 1495.3 1106.3 1497.8 1105.8 1500.3 1105.3 1502.8 1105.0 1505.3 1104.8 1507.8 1104.7 1510.3 1104.5 1512.8 1104.4 1515.3 1104.1 1517.8 1103.7 1520.3 1103.1 1522.8 1102.3 1525.3 1101.2 1527.8 1099.9 1530.3 1098.3 1532.8 1096.4 1535.3 1094.2 1537.8 1091.7 1540.3 1088.8 1542.8 1085.7 1545.3 1082.4 1547.8 1078.8 1550.3 1075.2 1552.8 1071.6 1555.3 1068.2 1557.8 1064.9 1560.3 1061.8 1562.8 1058.7 1565.3 1055.8 1567.8 1052.9 1570.3 1050.2 1572.8 1047.6 1575.3 1045.3 1577.8 1043.4 1580.3 1041.7 1582.8 1040.5 1585.3 1039.5 1587.8 1038.9 1590.3 1038.5 1592.8 1038.4 1595.3 1038.4 1597.8 1038.5 1600.3 1038.7 1602.8 1038.9 1605.3 1039.3 1607.8 1040.1 1610.3 1041.1 1612.8 1042.2 1615.3 1043.4 1617.8 1044.7 1620.3 1046.1 1622.8 1047.5 1625.3 1048.9 1627.8 1050.3 1630.3 1051.8 1632.8 1053.2 1635.3 1054.7 1637.8 1056.2 1640.3 1057.8 1642.8 1059.4 1645.3 1061.0 1647.8 1062.7 1650.3 1064.4 1652.8 1066.2 1655.3 1067.9 1657.8 1069.6 1660.3 1071.5 1662.8 1073.4 1665.3 1075.6 1667.8 1078.0 1670.3 1080.7 1672.8 1083.8 1675.3 1087.2 1677.8 1090.9 1680.3 1094.6 1682.8 1098.3 1685.3 1102.2 1687.8 1106.5 1690.3 1110.8 1692.8 1115.1 1695.3 1119.1 1697.8 1122.6 1700.3 1125.4 1702.8 1127.9 1705.3 1130.4 1707.8 1132.9 1710.3 1135.4 1712.8 1137.9 1715.3 1140.4 1717.8 1142.9 1720.3 1145.4 1722.8 1147.9 1725.3 1150.4 1727.8 1152.9 1730.3 1155.5 1732.8 1158.3 1735.3 1161.1 1737.8 1163.9 1740.3 1166.8 1742.8 1169.9 1745.3 1173.2 1747.8 1176.8 1750.3 1180.7 1752.8 1185.0 1755.3 1189.6 1757.8 1194.4 1760.3 1199.4 1762.8 1204.5 1765.3 1209.9 1767.8 1216.0 1770.3 1222.5 1772.8 1229.0 1775.3 1235.5 1777.8 1242.0 1780.3 1248.5 1782.8 1255.0 1785.3 1261.5 1787.8 1268.0 1790.3 1274.5 1792.8 1281.0 1795.3 1287.3 1797.8 1292.8 1800.3 1297.9 1802.8 1303.0 1805.3 1308.0 1807.8 1313.0 1810.3 1317.9 1812.8 1322.6 1815.3 1327.2 1817.8 1331.5 1820.3 1335.5 1822.8 1339.2 1825.3 1342.7 1827.8 1346.0 1830.3 1349.3 1832.8 1353.3 1835.3 1357.6 1837.8 1362.4 1840.3 1367.3 1842.8 1372.5 1845.3 1377.7 1847.8 1383.0 1850.3 1388.3 1852.8 1393.9 1855.3 1400.1 1857.8 1406.8 1860.3 1413.5 1862.8 1420.1 1865.3 1426.8 1867.8 1433.5 1870.3 1440.1 1872.8 1446.7 1875.3 1452.7 1877.8 1458.3 1880.3 1463.7 1882.8 1469.0 1885.3 1474.1 1887.8 1478.9 1890.3 1483.5 1892.8 1488.0 1895.3 1492.2 1897.8 1495.8 1900.3 1498.6 1902.8 1500.7 1905.3 1502.8 1907.8 1504.9 1910.3 1507.0 1912.8 1509.0 1915.3 1511.1 1917.8 1513.2 1920.3 1515.3 1922.8 1517.5 1925.3 1519.6 1927.8 1521.7 1930.3 1523.9 1932.8 1526.0 1935.3 1528.2 1937.8 1530.7 1940.3 1533.6 1942.8 1536.7 1945.3 1540.0 1947.8 1543.3 1950.3 1546.7 1952.8 1550.1 1955.3 1553.9 1957.8 1558.0 1960.3 1562.6 1962.8 1567.6 1965.3 1572.8 1967.8 1577.9 1970.3 1582.8 1972.8 1587.6 1975.3 1592.3 1977.8 1596.7 1980.3 1600.7 1982.8 1603.3 1985.3 1606.8 1987.8 1610.6 1990.3 1614.5 1992.8 1618.0 1995.3 1621.0 1997.8 1623.3 2000.3 1625.5 2002.8 1627.6 2005.3 1629.7 2007.8 1631.7 2010.3 1633.6 2012.8 1635.5 2015.3 1637.4 2017.8 1639.2 2020.3 1641.1 2022.8 1643.0 2025.3 1644.8 2027.8 1646.7 2030.3 1648.6 2032.8 1650.4 2035.3 1652.4 2037.8 1654.9 2040.3 1657.9 2042.8 1661.4 2045.3 1664.9 2047.8 1668.4 2050.3 1671.9 2052.8 1675.4 2055.3 1678.9 2057.8 1682.4 2060.3 1685.9 2062.8 1689.4 2065.3 1692.9 2067.8 1696.4 2070.3 1699.9 2072.8 1703.4 2075.3 1706.9 2077.8 1710.4 2080.3 1713.9 2082.8 1717.0 2085.3 1719.4 2087.8 1721.3 2090.3 1722.8 2092.8 1724.1 2095.3 1725.1 2097.8 1726.0 2100.3 1726.6 2102.8 1727.0 2105.3 1727.1 2107.8 1726.8 2110.3 1726.5 2112.8 1726.1 2115.3 1725.5 2117.8 1724.9 2120.3 1724.2 2122.8 1723.3 2125.3 1722.2 2127.8 1721.3 2130.3 1720.4 2132.8 1719.7 2135.3 1719.3 2137.8 1719.1 2140.3 1719.0 2142.8 1719.2 2145.3 1719.5 2147.8 1720.1 2150.3 1721.0 2152.8 1722.2 2155.3 1723.8 2157.8 1725.5 2160.3 1727.3 2162.8 1729.1 2165.3 1730.9 2167.8 1732.5 2170.3 1734.2 2172.8 1735.8 2175.3 1737.4 2177.8 1738.8 2180.3 1740.1 2182.8 1741.1 2185.3 1741.7 2187.8 1742.1 2190.3 1742.3 2192.8 1742.3 2195.3 1742.3 2197.8 1742.2 2200.3 1742.1 2202.8 1742.0 2205.3 1741.7 2207.8 1741.4 2210.3 1740.8 2212.8 1740.2 2215.3 1739.6 2217.8 1739.1 2220.3 1738.8 2222.8 1738.7 2225.3 1738.5 2227.8 1738.3 2230.3 1738.1 2232.8 1737.9 2235.3 1737.8 2237.8 1737.6 2240.3 1737.4 2242.8 1737.2" stroke="#0000ff" stroke-width="9.6"/>
<path d="M205.3 1580.0L207.8 1579.4 210.3 1578.8 212.8 1578.2 215.3 1577.6 217.8 1576.9 220.3 1576.2 222.8 1575.6 225.3 1574.8 227.8 1574.0 230.3 1573.2 232.8 1572.4 235.3 1571.5 237.8 1570.6 240.3 1569.7 242.8 1568.7 245.3 1567.7 247.8 1566.5 250.3 1565.1 252.8 1563.5 255.3 1561.6 257.8 1559.6 260.3 1557.3 262.8 1554.9 265.3 1552.4 267.8 1549.8 270.3 1547.1 272.8 1544.3 275.3 1541.5 277.8 1538.6 280.3 1535.8 282.8 1532.9 285.3 1530.1 287.8 1527.2 290.3 1524.3 292.8 1521.5 295.3 1518.6 297.8 1515.8 300.3 1512.9 302.8 1510.1 305.3 1507.2 307.8 1504.3 310.3 1501.5 312.8 1498.6 315.3 1495.8 317.8 1492.9 320.3 1490.1 322.8 1487.2 325.3 1484.3 327.8 1481.5 330.3 1478.6 332.8 1475.0 335.3 1470.8 337.8 1466.3 340.3 1461.6 342.8 1457.2 345.3 1453.2 347.8 1449.5 350.3 1445.8 352.8 1442.1 355.3 1438.5 357.8 1434.9 360.3 1431.5 362.8 1428.1 365.3 1424.8 367.8 1421.6 370.3 1418.4 372.8 1415.2 375.3 1412.0 377.8 1408.8 380.3 1405.6 382.8 1402.3 385.3 1399.0 387.8 1395.7 390.3 1392.3 392.8 1389.0 395.3 1385.6 397.8 1382.3 400.3 1379.1 402.8 1376.0 405.3 1373.2 407.8 1370.5 410.3 1368.0 412.8 1365.7 415.3 1363.6 417.8 1362.0 420.3 1360.8 422.8 1360.0 425.3 1359.6 427.8 1359.4 430.3 1359.5 432.8 1359.7 435.3 1360.0 437.8 1360.4 440.3 1361.1 442.8 1362.0 445.3 1363.2 447.8 1364.6 450.3 1366.2 452.8 1367.8 455.3 1369.5 457.8 1371.1 460.3 1372.8 462.8 1374.3 465.3 1375.8 467.8 1377.1 470.3 1378.4 472.8 1379.6 475.3 1380.9 477.8 1382.1 480.3 1383.3 482.8 1384.6 485.3 1385.8 487.8 1387.1 490.3 1388.3 492.8 1389.7 495.3 1391.1 497.8 1392.6 500.3 1394.1 502.8 1395.6 505.3 1397.0 507.8 1398.4 510.3 1399.6 512.8 1400.6 515.3 1401.3 517.8 1401.9 520.3 1402.2 522.8 1402.4 525.3 1402.5 527.8 1402.5 530.3 1402.4 532.8 1402.2 535.3 1401.9 537.8 1401.5 540.3 1401.1 542.8 1400.5 545.3 1399.8 547.8 1398.8 550.3 1397.6 552.8 1396.4 555.3 1395.5 557.8 1394.8 560.3 1394.3 562.8 1393.9 565.3 1393.9 567.8 1394.4 570.3 1395.3 572.8 1396.5 575.3 1397.7 577.8 1399.0 580.3 1400.3 582.8 1401.6 585.3 1402.9 587.8 1404.3 590.3 1405.6 592.8 1407.0 595.3 1408.3 597.8 1409.5 600.3 1410.1 602.8 1410.4 605.3 1410.4 607.8 1410.3 610.3 1409.7 612.8 1408.3 615.3 1406.3 617.8 1403.8 620.3 1400.5 622.8 1395.9 625.3 1389.8 627.8 1382.3 630.3 1373.3 632.8 1363.7 635.3 1353.9 637.8 1344.6 640.3 1336.1 642.8 1328.0 645.3 1319.7 647.8 1310.6 650.3 1300.3 652.8 1289.3 655.3 1277.9 657.8 1265.6 660.3 1253.1 662.8 1240.6 665.3 1228.1 667.8 1215.6 670.3 1203.1 672.8 1190.6 675.3 1178.1 677.8 1165.6 680.3 1153.1 682.8 1140.8 685.3 1129.5 687.8 1119.6 690.3 1111.3 692.8 1103.5 695.3 1096.0 697.8 1088.7 700.3 1081.4 702.8 1074.1 705.3 1066.8 707.8 1059.6 710.3 1052.7 712.8 1046.4 715.3 1040.3 717.8 1034.4 720.3 1028.8 722.8 1023.9 725.3 1019.6 727.8 1016.0 730.3 1012.9 732.8 1010.4 735.3 1008.6 737.8 1007.3 740.3 1006.6 742.8 1006.3 745.3 1006.4 747.8 1007.0 750.3 1008.0 752.8 1009.5 755.3 1011.4 757.8 1013.9 760.3 1016.8 762.8 1020.0 765.3 1023.5 767.8 1027.8 770.3 1033.0 772.8 1039.1 775.3 1045.4 777.8 1051.6 780.3 1057.9 782.8 1064.1 785.3 1070.4 787.8 1076.6 790.3 1082.9 792.8 1089.1 795.3 1094.4 797.8 1098.4 800.3 1101.4 802.8 1103.9 805.3 1106.2 807.8 1108.3 810.3 1110.3 812.8 1112.2 815.3 1114.0 817.8 1115.7 820.3 1117.3 822.8 1118.7 825.3 1120.1 827.8 1121.6 830.3 1123.2 832.8 1125.2 835.3 1127.9 837.8 1131.6 840.3 1136.5 842.8 1143.0 845.3 1150.8 847.8 1159.1 850.3 1167.8 852.8 1176.8 855.3 1186.3 857.8 1196.4 860.3 1207.6 862.8 1220.7 865.3 1235.9 867.8 1252.3 870.3 1269.2 872.8 1286.3 875.3 1303.2 877.8 1319.4 880.3 1335.0 882.8 1351.5 885.3 1368.5 887.8 1385.5 890.3 1402.5 892.8 1419.5 895.3 1436.5 897.8 1452.8 900.3 1467.8 902.8 1482.0 905.3 1495.3 907.8 1507.2 910.3 1518.0 912.8 1528.1 915.3 1537.2 917.8 1545.0 920.3 1551.0 922.8 1556.3 925.3 1560.8 927.8 1564.6 930.3 1567.7 932.8 1570.5 935.3 1573.2 937.8 1575.8 940.3 1578.2 942.8 1580.2 945.3 1582.0 947.8 1583.6 950.3 1585.2 952.8 1586.8 955.3 1588.4 957.8 1590.1 960.3 1592.0 962.8 1593.8 965.3 1595.7 967.8 1597.7 970.3 1599.8 972.8 1602.2 975.3 1604.8 977.8 1607.6 980.3 1610.6 982.8 1613.9 985.3 1617.2 987.8 1620.6 990.3 1624.1 992.8 1627.5 995.3 1631.0 997.8 1635.3 1000.3 1638.4 1002.8 1639.0 1005.3 1639.4 1007.8 1639.8 1010.3 1640.1 1012.8 1640.5 1015.3 1640.8 1017.8 1641.2 1020.3 1641.6 1022.8 1641.9 1025.3 1642.3 1027.8 1642.6 1030.3 1643.0 1032.8 1643.4 1035.3 1643.7 1037.8 1644.1 1040.3 1644.5 1042.8 1644.8 1045.3 1645.2 1047.8 1645.5 1050.3 1645.9 1052.8 1646.3 1055.3 1646.6 1057.8 1647.0 1060.3 1647.3 1062.8 1647.7 1065.3 1648.1 1067.8 1648.4 1070.3 1648.8 1072.8 1649.1 1075.3 1649.5 1077.8 1649.9 1080.3 1650.2 1082.8 1650.6 1085.3 1650.9 1087.8 1651.3 1090.3 1651.7 1092.8 1652.0 1095.3 1652.4 1097.8 1652.7 1100.3 1653.1 1102.8 1653.5 1105.3 1653.8 1107.8 1654.2 1110.3 1654.5 1112.8 1654.9 1115.3 1655.3 1117.8 1655.6 1120.3 1656.0 1122.8 1656.4 1125.3 1656.7 1127.8 1657.1 1130.3 1657.4 1132.8 1657.8 1135.3 1658.2 1137.8 1658.5 1140.3 1658.9 1142.8 1659.2 1145.3 1659.6 1147.8 1660.0 1150.3 1660.3 1152.8 1660.7 1155.3 1661.0 1157.8 1661.4 1160.3 1661.8 1162.8 1662.1 1165.3 1662.5 1167.8 1662.8 1170.3 1663.2 1172.8 1663.6 1175.3 1663.9 1177.8 1664.3 1180.3 1664.6 1182.8 1665.0 1185.3 1665.4 1187.8 1665.7 1190.3 1666.1 1192.8 1666.4 1195.3 1666.8 1197.8 1667.2 1200.3 1667.5 1202.8 1667.9 1205.3 1668.3 1207.8 1668.6 1210.3 1669.0 1212.8 1669.3 1215.3 1669.7 1217.8 1670.1 1220.3 1670.4 1222.8 1670.8 1225.3 1671.1 1227.8 1671.5 1230.3 1671.9 1232.8 1672.2 1235.3 1672.6 1237.8 1672.9 1240.3 1673.3 1242.8 1673.7 1245.3 1674.0 1247.8 1674.4 1250.3 1671.5 1252.8 1667.1 1255.3 1663.3 1257.8 1659.5 1260.3 1655.8 1262.8 1652.0 1265.3 1648.2 1267.8 1644.5 1270.3 1640.7 1272.8 1637.0 1275.3 1633.3 1277.8 1629.8 1280.3 1626.6 1282.8 1623.5 1285.3 1620.5 1287.8 1617.4 1290.3 1614.3 1292.8 1611.0 1295.3 1607.5 1297.8 1603.9 1300.3 1600.3 1302.8 1596.7 1305.3 1593.1 1307.8 1589.5 1310.3 1585.9 1312.8 1582.5 1315.3 1579.2 1317.8 1576.0 1320.3 1572.9 1322.8 1569.8 1325.3 1566.7 1327.8 1563.4 1330.3 1560.1 1332.8 1556.5 1335.3 1552.8 1337.8 1548.8 1340.3 1544.5 1342.8 1540.0 1345.3 1535.2 1347.8 1530.2 1350.3 1525.1 1352.8 1520.0 1355.3 1515.2 1357.8 1510.5 1360.3 1505.8 1362.8 1501.3 1365.3 1496.7 1367.8 1492.2 1370.3 1487.6 1372.8 1483.0 1375.3 1478.3 1377.8 1473.5 1380.3 1468.4 1382.8 1462.6 1385.3 1455.9 1387.8 1447.8 1390.3 1439.0 1392.8 1430.3 1395.3 1421.5 1397.8 1412.8 1400.3 1404.0 1402.8 1395.3 1405.3 1386.5 1407.8 1377.8 1410.3 1369.0 1412.8 1359.9 1415.3 1350.9 1417.8 1342.4 1420.3 1334.5 1422.8 1327.4 1425.3 1320.7 1427.8 1314.1 1430.3 1307.3 1432.8 1300.4 1435.3 1293.4 1437.8 1286.5 1440.3 1279.8 1442.8 1273.4 1445.3 1267.1 1447.8 1261.0 1450.3 1254.8 1452.8 1248.6 1455.3 1242.3 1457.8 1236.1 1460.3 1229.8 1462.8 1223.6 1465.3 1218.1 1467.8 1213.1 1470.3 1208.6 1472.8 1204.5 1475.3 1201.0 1477.8 1198.2 1480.3 1196.2 1482.8 1195.0 1485.3 1194.3 1487.8 1193.8 1490.3 1193.5 1492.8 1193.5 1495.3 1193.7 1497.8 1194.2 1500.3 1194.8 1502.8 1195.5 1505.3 1196.2 1507.8 1196.9 1510.3 1197.5 1512.8 1197.9 1515.3 1198.2 1517.8 1198.4 1520.3 1198.4 1522.8 1198.3 1525.3 1198.1 1527.8 1197.7 1530.3 1196.9 1532.8 1195.4 1535.3 1193.2 1537.8 1190.2 1540.3 1186.7 1542.8 1183.0 1545.3 1179.2 1547.8 1175.3 1550.3 1171.4 1552.8 1167.4 1555.3 1163.3 1557.8 1159.3 1560.3 1155.3 1562.8 1151.4 1565.3 1147.7 1567.8 1144.3 1570.3 1141.1 1572.8 1138.1 1575.3 1135.4 1577.8 1133.2 1580.3 1131.4 1582.8 1130.1 1585.3 1129.2 1587.8 1128.6 1590.3 1128.2 1592.8 1127.9 1595.3 1127.8 1597.8 1128.0 1600.3 1128.6 1602.8 1129.7 1605.3 1130.9 1607.8 1132.2 1610.3 1133.5 1612.8 1134.8 1615.3 1136.0 1617.8 1137.2 1620.3 1138.3 1622.8 1139.3 1625.3 1140.4 1627.8 1141.4 1630.3 1142.5 1632.8 1143.6 1635.3 1144.7 1637.8 1145.8 1640.3 1147.0 1642.8 1148.2 1645.3 1149.4 1647.8 1150.7 1650.3 1152.1 1652.8 1153.5 1655.3 1155.1 1657.8 1157.0 1660.3 1159.1 1662.8 1161.4 1665.3 1163.8 1667.8 1166.3 1670.3 1169.0 1672.8 1171.8 1675.3 1174.8 1677.8 1178.0 1680.3 1181.3 1682.8 1184.8 1685.3 1188.4 1687.8 1192.2 1690.3 1196.1 1692.8 1200.3 1695.3 1205.2 1697.8 1210.1 1700.3 1213.9 1702.8 1217.0 1705.3 1219.9 1707.8 1222.6 1710.3 1225.2 1712.8 1227.8 1715.3 1230.5 1717.8 1233.1 1720.3 1235.5 1722.8 1237.6 1725.3 1239.4 1727.8 1241.1 1730.3 1242.6 1732.8 1244.2 1735.3 1245.9 1737.8 1247.7 1740.3 1249.6 1742.8 1251.5 1745.3 1253.5 1747.8 1256.1 1750.3 1259.5 1752.8 1263.7 1755.3 1268.4 1757.8 1273.5 1760.3 1278.8 1762.8 1284.2 1765.3 1289.8 1767.8 1295.6 1770.3 1301.5 1772.8 1307.7 1775.3 1314.2 1777.8 1320.7 1780.3 1327.2 1782.8 1333.5 1785.3 1339.5 1787.8 1345.1 1790.3 1350.6 1792.8 1355.9 1795.3 1361.2 1797.8 1366.5 1800.3 1371.8 1802.8 1377.2 1805.3 1382.8 1807.8 1388.5 1810.3 1394.2 1812.8 1399.8 1815.3 1405.0 1817.8 1409.6 1820.3 1413.8 1822.8 1417.7 1825.3 1421.6 1827.8 1425.0 1830.3 1428.2 1832.8 1431.5 1835.3 1435.0 1837.8 1439.2 1840.3 1443.8 1842.8 1448.8 1845.3 1454.0 1847.8 1459.3 1850.3 1464.8 1852.8 1470.4 1855.3 1476.0 1857.8 1481.8 1860.3 1487.7 1862.8 1493.7 1865.3 1500.0 1867.8 1506.5 1870.3 1513.4 1872.8 1521.1 1875.3 1528.8 1877.8 1536.0 1880.3 1542.8 1882.8 1549.4 1885.3 1555.8 1887.8 1561.8 1890.3 1567.6 1892.8 1573.1 1895.3 1578.4 1897.8 1583.2 1900.3 1587.6 1902.8 1591.5 1905.3 1594.9 1907.8 1597.7 1910.3 1600.1 1912.8 1602.0 1915.3 1603.4 1917.8 1604.5 1920.3 1605.5 1922.8 1606.5 1925.3 1607.5 1927.8 1608.6 1930.3 1609.9 1932.8 1611.3 1935.3 1612.9 1937.8 1614.6 1940.3 1616.7 1942.8 1619.4 1945.3 1622.8 1947.8 1626.6 1950.3 1630.9 1952.8 1635.5 1955.3 1640.6 1957.8 1646.1 1960.3 1651.5 1962.8 1656.9 1965.3 1662.3 1967.8 1667.7 1970.3 1673.1 1972.8 1678.6 1975.3 1683.9 1977.8 1688.4 1980.3 1692.3 1982.8 1695.9 1985.3 1699.3 1987.8 1702.3 1990.3 1705.0 1992.8 1707.4 1995.3 1709.8 1997.8 1712.0 2000.3 1714.0 2002.8 1715.9 2005.3 1717.8 2007.8 1719.6 2010.3 1721.4 2012.8 1723.1 2015.3 1724.7 2017.8 1726.2 2020.3 1727.8 2022.8 1729.4 2025.3 1731.1 2027.8 1733.0 2030.3 1735.0 2032.8 1737.1 2035.3 1739.4 2037.8 1741.8 2040.3 1744.6 2042.8 1747.7 2045.3 1751.0 2047.8 1754.7 2050.3 1758.5 2052.8 1762.5 2055.3 1766.7 2057.8 1771.0 2060.3 1775.3 2062.8 1779.7 2065.3 1783.9 2067.8 1788.0 2070.3 1792.0 2072.8 1795.8 2075.3 1799.4 2077.8 1802.8 2080.3 1805.9 2082.8 1808.5 2085.3 1810.8 2087.8 1812.7 2090.3 1814.5 2092.8 1815.9 2095.3 1817.1 2097.8 1817.9 2100.3 1818.5 2102.8 1818.9 2105.3 1819.0 2107.8 1818.9 2110.3 1818.4 2112.8 1817.7 2115.3 1816.8 2117.8 1815.8 2120.3 1814.6 2122.8 1813.1 2125.3 1811.5 2127.8 1809.9 2130.3 1808.5 2132.8 1807.4 2135.3 1806.5 2137.8 1805.9 2140.3 1805.3 2142.8 1805.0 2145.3 1804.7 2147.8 1804.7 2150.3 1805.2 2152.8 1806.5 2155.3 1808.6 2157.8 1810.8 2160.3 1813.1 2162.8 1815.3 2165.3 1817.6 2167.8 1819.8 2170.3 1822.1 2172.8 1824.3 2175.3 1826.6 2177.8 1828.8 2180.3 1831.1 2182.8 1833.1 2185.3 1834.6 2187.8 1835.6 2190.3 1836.2 2192.8 1836.5 2195.3 1836.6 2197.8 1836.5 2200.3 1836.1 2202.8 1835.5 2205.3 1834.7 2207.8 1833.5 2210.3 1832.3 2212.8 1831.0 2215.3 1829.7 2217.8 1828.5 2220.3 1827.3 2222.8 1826.1 2225.3 1824.9 2227.8 1823.7 2230.3 1822.5 2232.8 1821.3 2235.3 1820.1 2237.8 1818.8 2240.3 1817.5 2242.8 1816.2" stroke="#ff00ff" stroke-width="10.4"/>
</g>
<g stroke="#000" stroke-width="8.2" stroke-dasharray="17.6 14.15" fill="none">
<path d="M732.3 387V2024"/>
<path d="M849.8 532.8V2037"/>
<path d="M1635.6 879.4V2037"/>
</g>
<text class="b" x="248.5" y="129.2" font-size="83.2">lead borate glass</text>
<text class="b" x="609.5" y="332.5" font-size="65.4">870 cm<tspan dx="4" dy="-38" font-size="38">-1</tspan></text>
<text class="b" x="774.5" y="483" font-size="65.4">925 cm<tspan dx="3" dy="-38" font-size="38">-1</tspan></text>
<text class="b" x="1490" y="829.2" font-size="65.4">1300 cm<tspan dx="5" dy="-38" font-size="38">-1</tspan></text>
<rect x="1366.8" y="136.9" width="223.7" height="9.6" rx="3.5" fill="#ff0000"/>
<text class="b" x="1607.5" y="172.3" font-size="66.2">without PbX<tspan dx="2.5" dy="26" font-size="36">2</tspan></text>
<rect x="1366.8" y="271.2" width="223.7" height="10.4" rx="3.5" fill="#00ff00"/>
<text class="b" x="1604.8" y="307.0" font-size="66.2">with PbF<tspan dx="0.8" dy="26" font-size="36">2</tspan></text>
<rect x="1366.8" y="406.1" width="223.7" height="9.6" rx="3.5" fill="#0000ff"/>
<text class="b" x="1604.8" y="441.8" font-size="66.2">with PbCl<tspan dx="0.8" dy="26" font-size="36">2</tspan></text>
<rect x="1366.8" y="541.2" width="223.7" height="10.4" rx="3.5" fill="#ff00ff"/>
<text class="b" x="1604.8" y="576.5" font-size="66.2">with PbBr<tspan dx="0.8" dy="26" font-size="36">2</tspan></text>
<text x="802" y="2286" font-size="96">Raman shift [cm<tspan dx="-1" dy="-51.8" font-size="57">-1</tspan><tspan dx="-3" dy="51.8" font-size="96">]</tspan></text>
<text transform="translate(102.6 924.4) rotate(-90)" font-size="95.4" text-anchor="middle">Normalized intensity [a.u.]</text>
</svg></body></html>
